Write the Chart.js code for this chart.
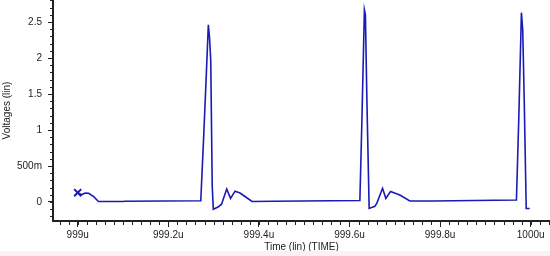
<!DOCTYPE html>
<html>
<head>
<meta charset="utf-8">
<script src="https://cdn.jsdelivr.net/npm/chart.js@4.4.0/dist/chart.umd.min.js"></script>
<style>
    body { margin: 0; background: #fcf0f4; }
    #wrap { width: 550px; height: 251px; background: #ffffff; }
</style>
</head>
<body>
<div id="wrap"><canvas id="waveChart" width="550" height="251"></canvas></div>
<script>
// time in microseconds, voltage in volts
const timeUs = [
    999.0000, 999.0088, 999.0165, 999.0243, 999.0353, 999.0459, 999.1003, 999.1025,
    999.2717, 999.2778, 999.2834, 999.2884, 999.2911, 999.2937, 999.2970, 999.2994,
    999.3098, 999.3175, 999.3290, 999.3374, 999.3473, 999.3583, 999.3693, 999.3848,
    999.4311, 999.6229, 999.6274, 999.6329, 999.6351, 999.6384, 999.6434, 999.6560,
    999.6604, 999.6730, 999.6802, 999.6906, 999.7023, 999.7111, 999.7332, 999.7839,
    999.9685, 999.9736, 999.9795, 999.9824, 999.9857, 999.9901, 999.9978
];
const voltage = [
    0.13, 0.10, 0.125, 0.12, 0.074, 0.007, 0.007, 0.011,
    0.017, 0.86, 1.69, 2.46, 2.28, 1.97, 0.22, -0.10,
    -0.07, -0.03, 0.18, 0.05, 0.15, 0.125, 0.076, 0.007,
    0.01, 0.02, 1.14, 2.67, 2.60, 1.42, -0.09, -0.06,
    -0.015, 0.19, 0.05, 0.146, 0.118, 0.097, 0.014, 0.014,
    0.028, 1.14, 2.63, 2.39, 1.42, -0.09, -0.09
];
const xTickValues = [999, 999.2, 999.4, 999.6, 999.8, 1000];
const yTickValues = [0, 0.5, 1, 1.5, 2, 2.5];

const fontTicks = { family: "Liberation Sans", size: 10 };

function formatVolt(v) {
    if (v !== 0 && Math.abs(v) < 1) return Math.round(v * 1000) + "m";
    return String(v);
}

// small ticks between the labelled ones
const minorTicks = {
    id: "minorTicks",
    afterDraw(chart) {
        const ctx = chart.ctx;
        const area = chart.chartArea;
        const xs = chart.scales.x;
        const ys = chart.scales.y;
        ctx.save();
        ctx.strokeStyle = "#222";
        ctx.lineWidth = 1;
        ctx.beginPath();
        for (let k = -3; k <= 53; k++) {
            const px = Math.round(xs.getPixelForValue(999 + k * 0.02)) + 0.5;
            if (px < area.left || px > area.right) continue;
            ctx.moveTo(px, area.bottom);
            ctx.lineTo(px, area.bottom + 4);
        }
        for (let k = -3; k <= 28; k++) {
            const py = Math.round(ys.getPixelForValue(k * 0.1)) + 0.5;
            if (py < area.top || py > area.bottom) continue;
            ctx.moveTo(area.left - 3, py);
            ctx.lineTo(area.left, py);
        }
        ctx.stroke();
        ctx.restore();
    }
};

new Chart(document.getElementById("waveChart"), {
    type: "line",
    data: {
        datasets: [{
            data: timeUs.map((t, i) => ({ x: t, y: voltage[i] })),
            borderColor: "#1a1ab4",
            borderWidth: 1.6,
            tension: 0,
            fill: false,
            pointStyle: "crossRot",
            pointRadius: ctx => ctx.dataIndex === 0 ? 5 : 0,
            pointBorderWidth: 2,
            pointBorderColor: "#1a1ab4"
        }]
    },
    options: {
        responsive: false,
        animation: false,
        layout: { padding: 0, autoPadding: false },
        plugins: { legend: { display: false }, tooltip: { enabled: false } },
        scales: {
            x: {
                type: "linear",
                min: 998.9455,
                max: 1000.0426,
                afterFit: s => {
                    s.height = 30;
                    s.paddingLeft = 0;
                    s.paddingRight = 0;
                },
                afterBuildTicks: s => { s.ticks = xTickValues.map(v => ({ value: v })); },
                ticks: {
                    callback: v => (+v.toFixed(1)) + "u",
                    font: fontTicks, color: "#222", padding: 2,
                    maxRotation: 0, autoSkip: false
                },
                grid: { drawOnChartArea: false, drawTicks: true, tickLength: 6, tickColor: "#222" },
                border: { display: true, color: "#222", width: 2 },
                title: {
                    display: true, text: "Time (lin) (TIME)",
                    font: fontTicks, color: "#222", padding: { top: 0, bottom: -2 }
                }
            },
            y: {
                min: -0.264,
                max: 2.806,
                afterFit: s => {
                    s.width = 53;
                    s.paddingTop = 0;
                    s.paddingBottom = 0;
                },
                afterBuildTicks: s => { s.ticks = yTickValues.map(v => ({ value: v })); },
                ticks: {
                    callback: v => formatVolt(v),
                    font: fontTicks, color: "#222", padding: 6
                },
                grid: { drawOnChartArea: false, drawTicks: true, tickLength: 5, tickColor: "#222" },
                border: { display: true, color: "#222", width: 2 },
                title: {
                    display: true, text: "Voltages (lin)",
                    font: fontTicks, color: "#222", padding: { top: 1, bottom: 0 }
                }
            }
        }
    },
    plugins: [minorTicks]
});
</script>
</body>
</html>
